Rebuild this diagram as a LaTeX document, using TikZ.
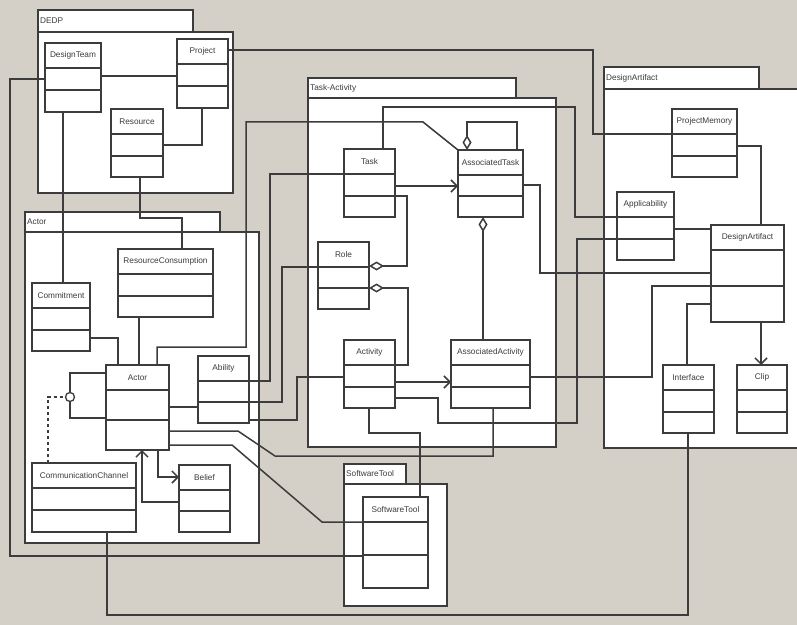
\documentclass[tikz,border=0pt]{standalone}
\usepackage{fontspec}
\setmainfont{Liberation Sans}
\usetikzlibrary{arrows.meta, calc}
\definecolor{winbg}{RGB}{212,208,200}
\definecolor{ink}{RGB}{60,60,60}
\newcommand{\umlclass}[6][69]{%
	\pgfmathsetmacro{\rowtwo}{round(#4+25+(#1-25)/2)}
	\node[cls, minimum width=#5bp, minimum height=#1bp] (#2) at (#3+#5/2, #4+#1/2) {};
	\node[clstext] (#2-name) at (#3+#5/2, #4+12.5) {#6};
	\draw[link] (#3,#4+25) -- ++(#5,0);
	\draw[link] (#3,\rowtwo) -- ++(#5,0);
}
\newcommand{\umlpackage}[8]{%
	\draw[pkg] (#2,#3) rectangle (#4,#5);
	\node[clstext, anchor=west] (#1) at (#2+2,{(#3+#5)/2}) {#8};
	\draw[pkg] (#2,#5) rectangle (#6,#7);
}

\begin{document}
\begin{tikzpicture}[x=1bp, y=-1bp,
	cls/.style={draw=ink, fill=white, line width=1.6bp, inner sep=0pt, outer sep=0pt},
	pkg/.style={draw=ink, fill=white, line width=1.6bp},
	clstext/.style={font=\fontsize{8.3}{10}\selectfont, inner sep=0pt, text=ink},
	link/.style={draw=ink, line width=1.5bp},
	agg/.style={link, {Diamond[open, length=15bp, width=9bp]}-},
	nav/.style={link, -{Straight Barb[length=6bp, width=12bp]}}]
	\useasboundingbox (0,0) rectangle (797,625);
	\clip (0,0) rectangle (797,625);
	\fill[winbg] (0,0) rectangle (797,625);

	\umlpackage{dedp}{38}{10}{193}{32}{233}{193}{DEDP}
	\umlpackage{actorpkg}{25}{212}{220}{232}{259}{543}{Actor}
	\umlpackage{taskpkg}{308}{78}{516}{98}{556}{447}{Task-Activity}
	\umlpackage{artifactpkg}{604}{67}{759}{89}{805}{448}{DesignArtifact}
	\umlpackage{toolpkg}{344}{464}{406}{484}{447}{606}{SoftwareTool}

	\umlclass{designteam}{45}{43}{56}{DesignTeam}
	\umlclass{project}{177}{39}{51}{Project}
	\umlclass[68]{resource}{111}{109}{52}{Resource}
	\umlclass[68]{rescons}{118}{249}{95}{ResourceConsumption}
	\umlclass[68]{commitment}{32}{283}{58}{Commitment}
	\umlclass[85]{actor}{106}{365}{63}{Actor}
	\umlclass[67]{ability}{198}{356}{51}{Ability}
	\umlclass{commchannel}{32}{463}{104}{CommunicationChannel}
	\umlclass[67]{belief}{179}{465}{51}{Belief}
	\umlclass[68]{task}{344}{149}{51}{Task}
	\umlclass[67]{role}{318}{242}{51}{Role}
	\umlclass[68]{activity}{344}{340}{51}{Activity}
	\umlclass[67]{asstask}{458}{150}{65}{AssociatedTask}
	\umlclass[68]{assact}{451}{340}{79}{AssociatedActivity}
	\umlclass[68]{projmemory}{672}{109}{65}{ProjectMemory}
	\umlclass[68]{applic}{617}{192}{57}{Applicability}
	\umlclass[97]{artifact}{711}{225}{73}{DesignArtifact}
	\umlclass[68]{interface}{663}{365}{51}{Interface}
	\umlclass[68]{clip}{737}{365}{50}{Clip}
	\umlclass[91]{tool}{363}{497}{65}{SoftwareTool}

	\draw[link] (designteam.east |- 0,76) -- (project.west |- 0,76);
	\draw[link] (202,0 |- project.south) -- (202,145) -- (resource.east |- 0,145);
	\draw[link] (designteam.west |- 0,79) -- (10,79) -- (10,556) -- (tool.west |- 0,556);
	\draw[link] (63,0 |- designteam.south) -- (63,0 |- commitment.north);
	\draw[link] (140,0 |- resource.south) -- (140,218) -- (182,218) -- (182,0 |- rescons.north);
	\draw[link] (project.east |- 0,50) -- (593,50) -- (593,134) -- (projmemory.west |- 0,134);
	\draw[link] (projmemory.east |- 0,146) -- (761,146) -- (761,0 |- artifact.north);
	\draw[link] (commitment.east |- 0,338) -- (118,338) -- (118,0 |- actor.north);
	\draw[link] (139,0 |- rescons.south) -- (139,0 |- actor.north);
	\draw[link] (157,0 |- actor.north) -- (157,347) -- (246,347) -- (246,122) -- (423,122) -- (asstask.north west);
	\draw[link] (actor.west |- 0,373) -- (70,373) -- (70,418) -- (actor.west |- 0,418);
	\node[draw=ink, fill=white, circle, minimum size=9bp, inner sep=0pt, line width=1.3bp] (lolly) at (70,397) {};
	\draw[link, dashed] (48,0 |- commchannel.north) -- (48,397) -- (lolly.west);
	\draw[link] (actor.east |- 0,407) -- (ability.west |- 0,407);
	\draw[link] (actor.east |- 0,431) -- (238,431) -- (275,456) -- (493,456) -- (493,0 |- assact.south);
	\draw[link] (actor.east |- 0,445) -- (232,445) -- (322,522) -- (tool.west |- 0,522);
	\draw[nav] (belief.west |- 0,502) -- (142,502) -- (142,0 |- actor.south);
	\draw[nav] (158,0 |- actor.south) -- (158,477) -- (belief.west |- 0,477);
	\draw[link] (107,0 |- commchannel.south) -- (107,615) -- (688,615) -- (688,0 |- interface.south);
	\draw[link] (ability.east |- 0,381) -- (270,381) -- (270,174) -- (task.west |- 0,174);
	\draw[link] (ability.east |- 0,402) -- (282,402) -- (282,267) -- (role.west |- 0,267);
	\draw[link] (ability.east |- 0,420) -- (297,420) -- (297,377) -- (activity.west |- 0,377);
	\draw[link] (383,0 |- task.north) -- (383,107) -- (575,107) -- (575,217) -- (applic.west |- 0,217);
	\draw[nav] (task.east |- 0,186) -- (asstask.west |- 0,186);
	\draw[agg] (role.east |- 0,266) -- (407,266) -- (407,196) -- (task.east |- 0,196);
	\draw[agg] (role.east |- 0,288) -- (408,288) -- (408,365) -- (activity.east |- 0,365);
	\draw[nav] (activity.east |- 0,382) -- (assact.west |- 0,382);
	\draw[link] (369,0 |- activity.south) -- (369,433) -- (420,433) -- (420,0 |- tool.north);
	\draw[link] (activity.east |- 0,398) -- (438,398) -- (438,423) -- (577,423) -- (577,239) -- (applic.west |- 0,239);
	\draw[agg] (467,0 |- asstask.north) -- (467,122) -- (517,122) -- (517,0 |- asstask.north);
	\draw[agg] (483,0 |- asstask.south) -- (483,0 |- assact.north);
	\draw[link] (asstask.east |- 0,185) -- (540,185) -- (540,273) -- (artifact.west |- 0,273);
	\draw[link] (assact.east |- 0,377) -- (652,377) -- (652,286) -- (artifact.west |- 0,286);
	\draw[link] (applic.east |- 0,229) -- (artifact.west |- 0,229);
	\draw[link] (687,0 |- interface.north) -- (687,304) -- (artifact.west |- 0,304);
	\draw[nav] (761,0 |- artifact.south) -- (761,0 |- clip.north);
\end{tikzpicture}
\end{document}
